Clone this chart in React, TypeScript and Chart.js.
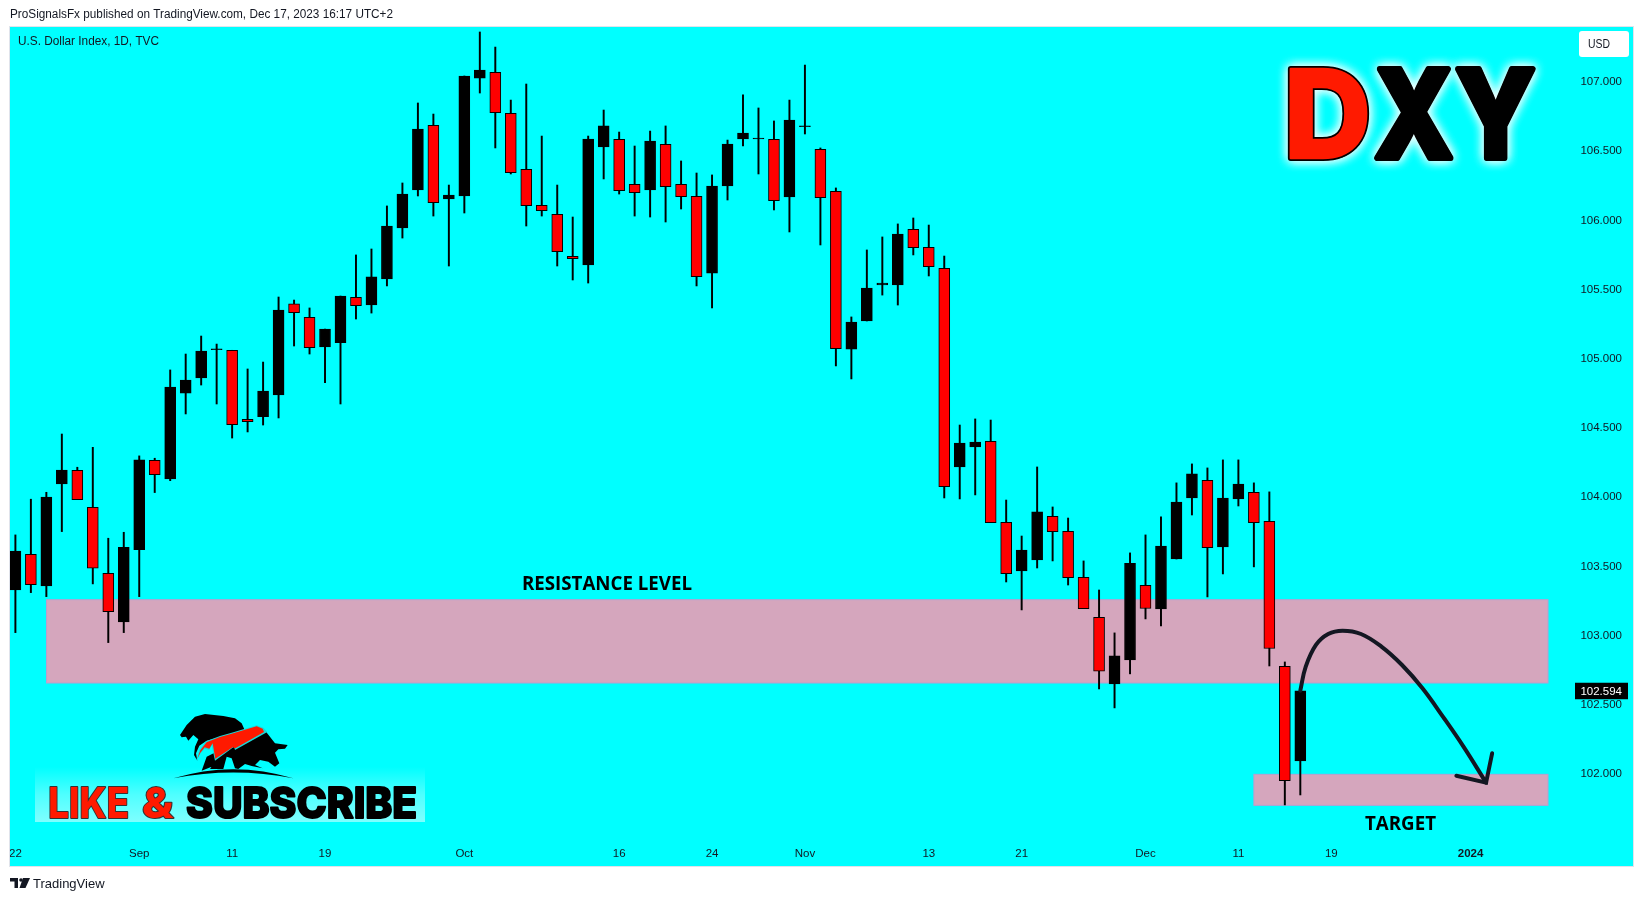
import React, { useEffect, useRef } from "react";
import { Chart, registerables } from "chart.js";

Chart.register(...registerables);

const opens = [103.322,103.58,103.351,104.088,104.187,103.92,103.443,103.091,103.614,104.259,104.124,104.745,104.854,105.058,105.054,104.555,104.574,104.731,105.389,105.292,105.078,105.109,105.437,105.381,105.569,105.938,106.212,106.679,106.147,106.169,107.021,107.062,106.766,106.361,106.101,106.036,105.733,105.67,106.523,106.578,106.253,106.212,106.542,106.253,106.166,105.612,106.241,106.581,106.582,106.578,106.162,106.669,106.506,106.203,105.063,105.266,105.526,105.526,105.928,105.798,105.646,104.211,104.355,104.396,103.811,103.459,103.539,103.854,103.746,103.414,103.125,102.643,102.817,103.356,103.185,103.546,103.987,104.115,103.633,103.98,104.028,103.819,102.771,102.087];
const closes = [103.604,103.361,103.994,104.189,103.975,103.479,103.166,103.631,104.262,104.156,104.789,104.839,105.049,105.064,104.517,104.538,104.76,105.345,105.326,105.073,105.208,105.446,105.376,105.584,105.952,106.183,106.653,106.121,106.176,107.036,107.079,106.771,106.337,106.099,106.063,105.767,105.716,106.581,106.675,106.207,106.193,106.566,106.236,106.164,105.586,106.241,106.544,106.624,106.588,106.135,106.718,106.675,106.157,105.066,105.258,105.504,105.54,105.894,105.796,105.658,104.069,104.384,104.391,103.809,103.44,103.611,103.886,103.744,103.411,103.187,102.735,102.846,103.515,103.188,103.64,103.958,104.161,103.628,103.987,104.088,103.809,102.899,101.945,102.594];
const highs = [103.72,103.978,104.028,104.449,104.209,104.353,103.696,103.739,104.291,104.274,104.912,105.027,105.157,105.099,105.054,104.919,104.969,105.439,105.417,105.36,105.208,105.446,105.743,105.786,106.097,106.263,106.841,106.761,106.248,107.036,107.354,107.245,106.862,106.978,106.602,106.248,106.017,106.602,106.79,106.631,106.53,106.638,106.675,106.422,106.335,106.321,106.573,106.899,106.805,106.711,106.862,107.115,106.516,106.227,105.295,105.779,105.873,105.967,106.01,105.959,105.735,104.514,104.558,104.55,103.972,103.712,104.211,103.922,103.842,103.532,103.322,103.012,103.59,103.72,103.85,104.096,104.233,104.204,104.262,104.262,104.096,104.031,102.802,102.595];
const lows = [103.014,103.303,103.274,103.744,103.975,103.366,102.942,103.014,103.274,104.026,104.112,104.594,104.803,104.666,104.42,104.464,104.514,104.565,105.085,105.027,104.82,104.666,105.28,105.323,105.519,105.865,106.169,106.024,105.663,106.046,106.913,106.516,106.328,105.952,106.024,105.663,105.562,105.54,106.292,106.183,106.024,106.017,105.981,106.075,105.519,105.36,106.14,106.53,106.328,106.068,105.909,106.617,105.815,104.941,104.847,105.266,105.453,105.381,105.743,105.591,103.987,103.98,104.009,103.809,103.38,103.178,103.481,103.532,103.358,103.187,102.607,102.47,102.716,103.113,103.062,103.546,103.864,103.272,103.438,103.929,103.489,102.773,101.769,101.841];

const priceTicks = [102, 102.5, 103, 103.5, 104, 104.5, 105, 105.5, 106, 106.5, 107];
const dateTickBars = [0, 8, 14, 20, 29, 39, 45, 51, 59, 65, 73, 79, 85, 94];
const dateTickLabels = ["22", "Sep", "11", "19", "Oct", "16", "24", "Nov", "13", "21", "Dec", "11", "19", "2024"];

const lastPrice = 102.594;
const resistanceZone = { from: 2.01, to: 99.0, top: 103.252, bottom: 102.65 };
const targetZone = { from: 80.0, to: 99.0, top: 101.99, bottom: 101.766 };

const arrowBars = [83.0, 83.35, 84.01, 84.8, 85.73, 86.92, 88.24, 89.57, 90.89, 92.21, 93.54, 95.0];
const arrowPrices = [102.595, 102.768, 102.925, 103.004, 103.028, 103.004, 102.913, 102.78, 102.612, 102.407, 102.19, 101.93];
const arrowHeadBars = [93.08, 95.0, 95.39];
const arrowHeadPrices = [101.98, 101.93, 102.142];

const W = 1643;
const H = 901;
const PANEL = { l: 10, r: 1633, t: 27, b: 866 };
const INK = "#131722";

function put(ctx: any, s: string, x: number, y: number, font: string, color: string, align = "left", maxW?: number) {
  ctx.font = font;
  ctx.fillStyle = color;
  ctx.textAlign = align;
  ctx.textBaseline = "middle";
  if (maxW) ctx.fillText(s, x, y, maxW);
  else ctx.fillText(s, x, y);
}

// Stretches a word horizontally so its ink runs from x0 to x1.
function fitted(ctx: any, s: string, x0: number, x1: number, base: number, paint: () => void) {
  ctx.textAlign = "left";
  ctx.textBaseline = "alphabetic";
  const m = ctx.measureText(s);
  const left = -m.actualBoundingBoxLeft;
  const k = (x1 - x0) / (m.actualBoundingBoxRight - left);
  ctx.save();
  ctx.translate(x0 - left * k, base);
  ctx.scale(k, 1);
  paint();
  ctx.restore();
}

function poly(ctx: any, pts: number[][], ox: number, oy: number, k: number, color: string) {
  ctx.beginPath();
  pts.forEach((p, i) => (i ? ctx.lineTo(ox + p[0] * k, oy + p[1] * k) : ctx.moveTo(ox + p[0] * k, oy + p[1] * k)));
  ctx.closePath();
  ctx.fillStyle = color;
  ctx.fill();
}

function drawBadge(ctx: any) {
  const g = ctx.createLinearGradient(0, 767, 0, 822);
  g.addColorStop(0, "rgba(205,255,255,0)");
  g.addColorStop(0.5, "rgba(205,255,255,0.38)");
  g.addColorStop(1, "rgba(205,255,255,0.62)");
  ctx.fillStyle = g;
  ctx.fillRect(35, 767, 390, 55);

  const ox = 160, oy = 700, k = 1 / 3;
  poly(ctx, [[60,105],[80,75],[105,50],[135,42],[190,48],[225,55],[245,70],[255,92],[215,102],[170,114],[140,122],[118,137],[108,160],[112,182],[102,165],[105,140],[115,118],[100,105],[85,122],[78,110],[65,112]], ox, oy, k, "#000");
  poly(ctx, [[318,95],[345,130],[383,135],[375,146],[355,148],[345,158],[358,190],[345,200],[325,185],[300,180],[285,195],[308,205],[275,198],[255,192],[235,207],[225,205],[215,175],[200,170],[190,207],[150,207],[165,185],[155,200],[125,212],[140,170],[220,130]], ox, oy, k, "#000");
  poly(ctx, [[108,184],[118,150],[138,124],[180,108],[215,98],[250,88],[290,76],[310,83],[322,96],[225,150],[222,140],[165,182],[155,135],[148,150],[134,146],[120,162]], ox, oy, k, "#19d8d8");
  poly(ctx, [[112,176],[121,151],[140,127],[180,111],[215,101],[250,91],[290,79],[308,86],[312,96],[226,145],[218,142],[166,176],[158,130],[148,146],[134,142],[121,158]], ox, oy, k, "#ff1a00");
  ctx.beginPath();
  ctx.moveTo(ox + 40 * k, oy + 235 * k);
  ctx.quadraticCurveTo(ox + 220 * k, oy + 180 * k, ox + 400 * k, oy + 235 * k);
  ctx.quadraticCurveTo(ox + 220 * k, oy + 200 * k, ox + 40 * k, oy + 235 * k);
  ctx.fillStyle = "#000";
  ctx.fill();

  ctx.font = "800 43px Inter, 'Open Sans', sans-serif";
  ctx.lineJoin = "round";
  const words: [string, number, number, string, string, number][] = [
    ["LIKE", 50, 128, "#ff1a00", "#333", 2],
    ["&", 143, 174, "#ff1a00", "#333", 2],
    ["SUBSCRIBE", 187, 416, "#000", "#000", 2],
  ];
  for (const [s, x0, x1, fill, edge, lw] of words) {
    fitted(ctx, s, x0, x1, 818, () => {
      ctx.lineWidth = lw;
      ctx.strokeStyle = edge;
      ctx.strokeText(s, 0, 0);
      ctx.fillStyle = fill;
      ctx.fillText(s, 0, 0);
    });
  }
}

function drawDxy(ctx: any) {
  ctx.save();
  ctx.font = "800 122px Inter, 'Open Sans', sans-serif";
  ctx.lineJoin = "round";
  const letters: [string, number, number, string][] = [
    ["D", 1290, 1367, "#ff1a00"],
    ["X", 1376, 1451, "#000000"],
    ["Y", 1457, 1533, "#000000"],
  ];
  // soft white halo first
  for (const [ch, x0, x1] of letters) {
    fitted(ctx, ch, x0, x1, 158, () => {
      ctx.shadowColor = "rgba(255,255,255,0.9)";
      ctx.shadowBlur = 11;
      ctx.lineWidth = 5;
      ctx.strokeStyle = "#000";
      for (let p = 0; p < 2; p++) {
        ctx.strokeText(ch, 0, 0);
        ctx.fillText(ch, 0, 0);
      }
    });
  }
  ctx.shadowBlur = 0;
  ctx.shadowColor = "transparent";
  for (const [ch, x0, x1, color] of letters) {
    fitted(ctx, ch, x0, x1, 158, () => {
      ctx.lineWidth = 6;
      ctx.strokeStyle = "#000";
      ctx.strokeText(ch, 0, 0);
      ctx.fillStyle = color;
      ctx.strokeStyle = color;
      ctx.lineWidth = 2.5;
      ctx.strokeText(ch, 0, 0);
      ctx.fillText(ch, 0, 0);
    });
  }
  ctx.restore();
}

function drawFooterMark(ctx: any) {
  ctx.fillStyle = INK;
  ctx.fillRect(10, 878, 8, 3.5);
  ctx.fillRect(14.5, 878, 3.5, 10);
  ctx.beginPath();
  ctx.arc(21, 880, 1.8, 0, Math.PI * 2);
  ctx.fill();
  ctx.beginPath();
  ctx.moveTo(23, 878);
  ctx.lineTo(30, 878);
  ctx.lineTo(25.5, 888);
  ctx.lineTo(19.5, 888);
  ctx.closePath();
  ctx.fill();
}

const scenery = {
  id: "scenery",
  beforeDraw(chart: any) {
    const { ctx } = chart;
    ctx.save();
    ctx.fillStyle = "#ffffff";
    ctx.fillRect(0, 0, W, H);
    ctx.fillStyle = "#00ffff";
    ctx.fillRect(PANEL.l, PANEL.t, PANEL.r - PANEL.l, PANEL.b - PANEL.t);
    ctx.restore();
  },
  beforeDatasetsDraw(chart: any) {
    const { ctx, scales } = chart;
    ctx.save();
    for (const z of [resistanceZone, targetZone]) {
      const x0 = scales.x.getPixelForValue(z.from);
      const x1 = scales.x.getPixelForValue(z.to);
      const y0 = scales.y.getPixelForValue(z.top);
      const y1 = scales.y.getPixelForValue(z.bottom);
      ctx.fillStyle = "#d5a6bd";
      ctx.fillRect(x0, y0, x1 - x0, y1 - y0);
      ctx.strokeStyle = "#b79fd0";
      ctx.lineWidth = 1;
      ctx.strokeRect(x0, y0, x1 - x0, y1 - y0);
    }
    drawBadge(ctx);
    drawDxy(ctx);
    ctx.restore();
  },
  afterDraw(chart: any) {
    const { ctx, scales } = chart;
    ctx.save();
    // the panel clips the first candle and date label on its left edge
    ctx.fillStyle = "#ffffff";
    ctx.fillRect(0, 27, PANEL.l, 839);
    ctx.strokeStyle = "#e0e3eb";
    ctx.lineWidth = 1;
    ctx.strokeRect(PANEL.l - 0.5, PANEL.t - 0.5, PANEL.r - PANEL.l + 1, PANEL.b - PANEL.t + 1);

    put(ctx, "ProSignalsFx published on TradingView.com, Dec 17, 2023 16:17 UTC+2", 10, 15, "12.5px 'Liberation Sans', sans-serif", INK, "left", 383);
    put(ctx, "U.S. Dollar Index, 1D, TVC", 18, 42, "12px 'Liberation Sans', sans-serif", INK, "left", 141);
    put(ctx, "RESISTANCE LEVEL", 522, 585, "bold 19px 'Open Sans', sans-serif", "#000", "left", 170);
    put(ctx, "TARGET", 1365, 824, "bold 20px 'Open Sans', sans-serif", "#000", "left", 71);

    ctx.fillStyle = "#ffffff";
    ctx.beginPath();
    ctx.roundRect(1579, 31, 50, 26, 3);
    ctx.fill();
    put(ctx, "USD", 1588, 45, "12.5px 'Liberation Sans', sans-serif", INK, "left", 22);

    const py = scales.y.getPixelForValue(lastPrice);
    ctx.fillStyle = "#000";
    ctx.fillRect(1575, py - 8, 53, 16.5);
    put(ctx, lastPrice.toFixed(3), 1622, py + 1, "11.5px 'Liberation Sans', sans-serif", "#fff", "right");

    drawFooterMark(ctx);
    put(ctx, "TradingView", 33, 884, "13px 'Liberation Sans', sans-serif", INK, "left", 72);
    ctx.restore();
  },
};

export default function App() {
  const ref = useRef<HTMLCanvasElement | null>(null);
  useEffect(() => {
    const bars = opens.map((_, i) => i);
    const isUp = (i: number) => closes[i] >= opens[i];
    const chart = new Chart(ref.current as HTMLCanvasElement, {
      type: "bar",
      data: {
        datasets: [
          {
            label: "Wicks",
            order: 3,
            clip: false,
            data: bars.map((i) => ({ x: i, y: [lows[i], highs[i]] })) as any,
            backgroundColor: "#000",
            borderWidth: 0,
            barThickness: 1.3,
            grouped: false,
          } as any,
          {
            label: "U.S. Dollar Index",
            order: 2,
            clip: false,
            data: bars.map((i) => ({ x: i, y: [opens[i], closes[i]] })) as any,
            backgroundColor: bars.map((i) => (isUp(i) ? "#000000" : "#ff0000")),
            borderColor: "#000",
            borderWidth: 1,
            borderSkipped: false,
            barThickness: 11,
            grouped: false,
          } as any,
          {
            type: "line",
            label: "Projection",
            order: 1,
            data: arrowBars.map((x, i) => ({ x, y: arrowPrices[i] })),
            borderColor: INK,
            borderWidth: 4,
            pointRadius: 0,
            tension: 0.4,
            borderCapStyle: "round",
          } as any,
          {
            type: "line",
            label: "Arrow head",
            order: 1,
            data: arrowHeadBars.map((x, i) => ({ x, y: arrowHeadPrices[i] })),
            borderColor: INK,
            borderWidth: 4,
            pointRadius: 0,
            borderCapStyle: "round",
            borderJoinStyle: "miter",
          } as any,
        ],
      },
      options: {
        animation: false,
        responsive: false,
        devicePixelRatio: 1,
        layout: { padding: { left: PANEL.l, right: W - PANEL.r, top: PANEL.t, bottom: H - PANEL.b } },
        plugins: { legend: { display: false }, tooltip: { enabled: false } },
        scales: {
          x: {
            type: "linear",
            offset: false,
            min: 0,
            max: 104.49,
            grid: { display: false, drawTicks: false },
            border: { display: false },
            afterFit: (s: any) => { s.height = 28; },
            afterBuildTicks: (s: any) => { s.ticks = dateTickBars.map((value) => ({ value })); },
            ticks: {
              autoSkip: false,
              maxRotation: 0,
              minRotation: 0,
              padding: 9,
              color: INK,
              font: (c: any) => ({
                family: "'Liberation Sans', sans-serif",
                size: 11.5,
                weight: c.tick && c.tick.value === 94 ? "bold" : "normal",
              }),
              callback: (v: any) => dateTickLabels[dateTickBars.indexOf(v)],
            },
          },
          y: {
            type: "linear",
            position: "right",
            min: 101.53,
            max: 107.39,
            grid: { display: false, drawTicks: false },
            border: { display: false },
            afterFit: (s: any) => { s.width = 0; },
            afterBuildTicks: (s: any) => { s.ticks = priceTicks.map((value) => ({ value })); },
            ticks: {
              mirror: true,
              padding: -11,
              labelOffset: 1,
              color: INK,
              font: { family: "'Liberation Sans', sans-serif", size: 11.5 },
              callback: (v: any) => Number(v).toFixed(3),
            },
          },
        },
      } as any,
      plugins: [scenery],
    });
    return () => chart.destroy();
  }, []);
  return (
    <div style={{ position: "fixed", left: 0, top: 0, width: W, height: H, background: "#fff" }}>
      <canvas ref={ref} width={W} height={H} style={{ display: "block", width: W, height: H }} />
    </div>
  );
}
